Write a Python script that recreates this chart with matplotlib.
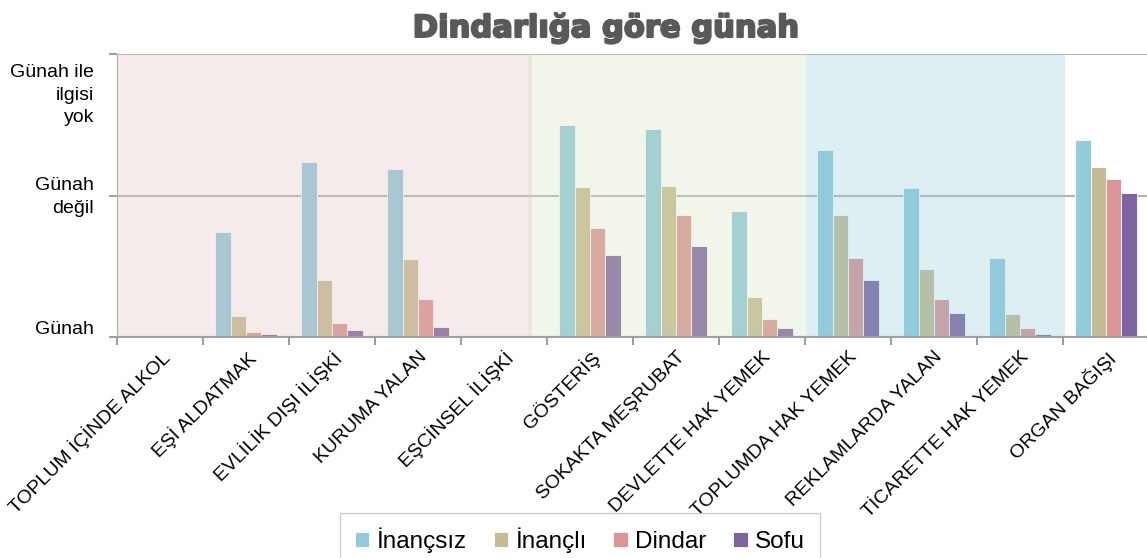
import matplotlib.pyplot as plt
import matplotlib.patheffects as pe
import numpy as np

plt.rcParams['font.family'] = ['Liberation Sans', 'DejaVu Sans']

categories = ['TOPLUM İÇİNDE ALKOL', 'EŞİ ALDATMAK', 'EVLİLİK DIŞI İLİŞKİ', 'KURUMA YALAN',
              'EŞCİNSEL İLİŞKİ', 'GÖSTERİŞ', 'SOKAKTA MEŞRUBAT', 'DEVLETTE HAK YEMEK',
              'TOPLUMDA HAK YEMEK', 'REKLAMLARDA YALAN', 'TİCARETTE HAK YEMEK', 'ORGAN BAĞIŞI']
groups = ['İnançsız', 'İnançlı', 'Dindar', 'Sofu']

inancsiz = [0, 0.74, 1.24, 1.19, 0, 1.50, 1.47, 0.89, 1.32, 1.05, 0.56, 1.39]
inancli = [0, 0.15, 0.40, 0.55, 0, 1.06, 1.07, 0.28, 0.86, 0.48, 0.16, 1.20]
dindar = [0, 0.033, 0.10, 0.27, 0, 0.77, 0.86, 0.13, 0.56, 0.27, 0.063, 1.12]
sofu = [0, 0.023, 0.052, 0.07, 0, 0.58, 0.64, 0.061, 0.40, 0.17, 0.021, 1.02]

ytick_vals = [0, 1, 2]
ytick_labels = ['Günah', 'Günah\ndeğil', 'Günah ile\nilgisi\nyok']

colors = ['#92cbdc', '#c5bc96', '#db9594', '#8064a2']

fig = plt.figure(figsize=(11.47, 5.58), dpi=100)
ax = fig.add_axes([117 / 1147, 1 - 337 / 558, 1032 / 1147, 283 / 558])

x = np.arange(len(categories))
w = 0.18
for i, vals in enumerate([inancsiz, inancli, dindar, sofu]):
    ax.bar(x - 1.5 * w + i * w, vals, w, color=colors[i], edgecolor='white', linewidth=0.6,
           label=groups[i], zorder=1)

# shaded theme bands laid over the bars
ax.axvspan(-0.5, 4.33, color='#e1c0bc', alpha=0.3, lw=0, zorder=2)
ax.axvspan(4.28, 7.51, color='#d4deb9', alpha=0.3, lw=0, zorder=2)
ax.axvspan(7.51, 10.52, color='#91cad7', alpha=0.3, lw=0, zorder=2)

ax.set_xlim(-0.5, 11.5)
ax.set_ylim(0, 2)
ax.set_yticks(ytick_vals)
ax.set_yticklabels([])
ax.yaxis.grid(True, color='#b4b4b4', lw=1.5, zorder=0)
ax.set_axisbelow(True)

ax.set_xticks(np.arange(-0.5, 12, 1))
ax.set_xticklabels([])
ax.set_xticks(x, minor=True)
ax.set_xticklabels(categories, minor=True, rotation=45, ha='right', rotation_mode='anchor',
                   fontsize=14)
ax.tick_params(axis='x', which='minor', length=0, pad=8)
ax.tick_params(axis='x', which='major', length=6, color='#8c8c8c', width=1.2)
ax.tick_params(axis='y', length=6, color='#8c8c8c', width=1.2)

for s in ['top', 'right']:
    ax.spines[s].set_visible(False)
ax.spines['left'].set_color('#b0b0b0')
ax.spines['bottom'].set_color('#a0a0a0')
ax.spines['bottom'].set_linewidth(1.5)

label_pos = [0.05, 0.99, 1.71]
for yv, lab in zip(label_pos, ytick_labels):
    ax.annotate(lab, xy=(0, yv), xycoords=('axes fraction', 'data'), xytext=(-23, 0),
                textcoords='offset pixels', ha='right', va='center', fontsize=14,
                linespacing=1.4)

fig.text(605 / 1147, 1 - 37 / 558, 'Dindarlığa göre günah', ha='center', va='baseline',
         fontsize=22, fontweight='bold', family=['DejaVu Sans'], color='#595959',
         path_effects=[pe.withStroke(linewidth=1.5, foreground='#595959')])

leg = fig.legend(loc='upper center', bbox_to_anchor=(580 / 1147, 1 - 513 / 558), ncol=4,
                 fontsize=17.5, frameon=True, fancybox=False, edgecolor='#c0c0c0',
                 handlelength=0.6, handleheight=0.6, handletextpad=0.3, columnspacing=1.1,
                 borderpad=0.6, borderaxespad=0)

fig.savefig('out.png', dpi=100)
